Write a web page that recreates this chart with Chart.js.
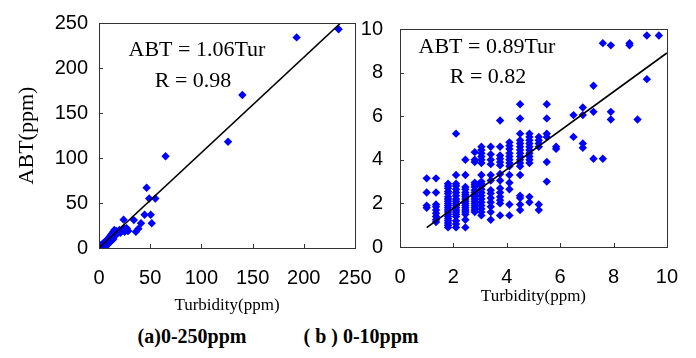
<!DOCTYPE html>
<html>
<head>
<meta charset="utf-8">
<script src="https://cdn.jsdelivr.net/npm/chart.js@4"></script>
<style>
  body { margin: 0; background: #fff; }
  #wrap { position: relative; width: 696px; height: 358px; overflow: hidden; }
  canvas { position: absolute; top: 0; }
  .cap { position: absolute; top: 326px; font: bold 20px "Liberation Serif", serif; line-height: 20px;
         transform: translateX(-50%); white-space: nowrap; color: #000; }
</style>
</head>
<body>
<div id="wrap">
  <canvas id="chartA" width="400" height="320" style="left:0"></canvas>
  <canvas id="chartB" width="356" height="320" style="left:340px"></canvas>
  <div class="cap" style="left:192px">(a)0-250ppm</div>
  <div class="cap" style="left:361px">( b ) 0-10ppm</div>
</div>
<script>
// (a) 0-250 ppm : turbidity vs ABT
const turA = [234, 193, 140, 126, 65, 46.5, 49, 55, 44.5, 50.5, 51.5, 34, 24, 41, 38.5, 36, 27, 28.5,
  1, 1.5, 2, 2, 2.5, 3, 3, 3.5, 4, 4, 4.5, 5, 5, 5.5, 6, 6, 6.5, 7, 7, 7.5, 8, 8, 8.5, 9, 9, 9.5,
  10, 10, 10.5, 11, 11, 11.5, 12, 12, 12.5, 13, 13, 13.5, 14, 14, 15, 15, 16, 17, 18, 19, 20, 21,
  22, 23, 24, 25, 26, 27, 28];
const abtA = [243, 234, 170, 118, 102, 67, 55, 55, 37, 37, 27.5, 31, 31.5, 27.5, 21.5, 18, 21.5, 19,
  1, 2.5, 1, 3, 2, 4, 1.5, 3, 5, 2, 3.5, 6, 2.5, 4.5, 7, 3, 5, 8, 4, 6, 9, 3, 7, 10, 5, 8,
  12, 6, 9, 13, 7, 10, 15, 8, 11, 16, 9, 12, 18, 10, 20, 13, 17, 19, 16, 18, 20, 17,
  19, 21, 22, 18, 20, 22, 19];
const fitA = [{ x: 0, y: 0 }, { x: 236, y: 250 }];

// (b) 0-10 ppm : points sit on discrete turbidity columns
const turB = [1.0, 1.35, 1.8, 2.1, 2.45, 2.8, 3.05, 3.4, 3.75, 4.1, 4.5, 4.85, 5.2, 5.5, 5.85,
  6.5, 6.85, 7.25, 7.6, 7.9, 8.6, 8.9, 9.25, 9.7];
const abtB = [
  [3.15, 2.5, 1.9, 1.8],
  [3.15, 2.5, 1.95, 1.85, 1.7, 1.55, 1.4, 1.25, 1.15],
  [2.9, 2.8, 2.7, 2.55, 2.45, 2.3, 2.2, 2.1, 2.0, 1.9, 1.8, 1.7, 1.6, 1.5, 1.4, 1.3, 1.2, 1.1, 1.0, 0.9],
  [5.2, 3.3, 2.9, 2.8, 2.65, 2.5, 2.35, 2.2, 2.1, 2.0, 1.9, 1.8, 1.7, 1.6, 1.5, 1.4, 1.2, 1.05, 0.9],
  [4.0, 3.3, 2.75, 2.65, 2.5, 2.4, 2.3, 2.2, 2.1, 2.0, 1.9, 1.8, 1.7, 1.6, 1.5, 1.25, 0.9],
  [4.35, 4.0, 3.9, 2.95, 2.85, 2.75, 2.6, 2.5, 2.4, 2.3, 2.2, 2.1, 2.0, 1.9, 1.8, 1.7, 1.6],
  [4.6, 4.45, 4.3, 4.15, 4.0, 3.85, 3.3, 3.0, 2.9, 2.8, 2.65, 2.5, 2.35, 2.2, 2.05, 1.9, 1.75, 1.6, 1.45],
  [4.6, 4.25, 4.0, 3.8, 3.3, 3.05, 2.6, 2.45, 2.25, 2.05, 1.85, 1.6, 1.25],
  [5.8, 4.6, 4.2, 4.05, 3.9, 3.75, 3.35, 3.05, 2.7, 2.5, 2.3, 2.15, 2.0, 1.45],
  [4.8, 4.65, 4.5, 4.3, 4.15, 4.0, 3.85, 3.7, 3.3, 2.95, 2.65, 1.95, 1.45],
  [6.55, 5.9, 5.2, 4.9, 4.75, 4.6, 4.45, 4.3, 4.15, 4.0, 3.85, 3.7, 3.3, 2.35, 2.25, 1.95, 1.7],
  [5.2, 5.05, 4.9, 4.75, 4.6, 4.45, 4.3, 4.15, 4.0, 3.85, 2.3, 2.05],
  [5.05, 4.9, 4.75, 4.6, 1.95, 1.7],
  [6.55, 5.9, 5.2, 5.05, 3.9, 3.0],
  [4.6, 4.5],
  [6.05, 5.05],
  [6.4, 6.05, 4.75, 4.55],
  [7.4, 6.2, 4.05],
  [9.35, 4.05],
  [9.25, 6.2, 5.85],
  [9.35, 9.25],
  [5.85],
  [9.7, 7.7],
  [9.7]
];
const fitB = [{ x: 1, y: 0.89 }, { x: 10, y: 8.9 }];

const BLUE = "#0000ff";
const tickFont = { family: "'Liberation Sans', Arial, sans-serif", size: 20 };
const serif = "'Liberation Serif', 'Times New Roman', serif";

// frame box + inward tick marks + equation text
const framePlugin = {
  id: "frame",
  afterDraw(chart, args, opts) {
    const { ctx, chartArea: a, scales } = chart;
    ctx.save();
    ctx.strokeStyle = "#333";
    ctx.lineWidth = 1;
    ctx.strokeRect(Math.round(a.left) + 0.5, Math.round(a.top) + 0.5,
      Math.round(a.right - a.left), Math.round(a.bottom - a.top));
    ctx.beginPath();
    scales.x.ticks.forEach((t, i) => {
      const px = Math.round(scales.x.getPixelForTick(i)) + 0.5;
      ctx.moveTo(px, a.bottom);
      ctx.lineTo(px, a.bottom - 4);
    });
    scales.y.ticks.forEach((t, i) => {
      const py = Math.round(scales.y.getPixelForTick(i)) + 0.5;
      ctx.moveTo(a.left, py);
      ctx.lineTo(a.left + 4, py);
    });
    ctx.stroke();
    ctx.fillStyle = "#000";
    ctx.font = "22px " + serif;
    ctx.textAlign = "center";
    ctx.textBaseline = "alphabetic";
    (opts.notes || []).forEach((n) => ctx.fillText(n.text, n.x, n.y));
    ctx.restore();
  },
};

function makeChart(id, points, fit, cfg) {
  return new Chart(document.getElementById(id), {
    type: "scatter",
    data: {
      datasets: [
        {
          data: fit,
          showLine: true,
          borderColor: "#000",
          borderWidth: 1.6,
          pointRadius: 0,
        },
        {
          data: points,
          pointStyle: "rectRot",
          pointRadius: 4.2,
          pointBorderWidth: 0,
          backgroundColor: BLUE,
          borderColor: BLUE,
        },
      ],
    },
    options: {
      responsive: false,
      animation: false,
      layout: { padding: cfg.padding },
      plugins: {
        legend: { display: false },
        tooltip: { enabled: false },
        frame: { notes: cfg.notes },
      },
      scales: {
        x: {
          min: 0,
          max: cfg.max,
          grid: { display: false, drawTicks: false },
          border: { display: false },
          ticks: { stepSize: cfg.step, font: tickFont, color: "#000", padding: cfg.xPad, autoSkip: false, maxRotation: 0 },
          title: {
            display: true,
            text: "Turbidity(ppm)",
            color: "#000",
            font: { family: serif, size: 17 },
            padding: { top: 0, bottom: cfg.xTitlePad },
          },
          afterFit: (s) => { s.height = cfg.xHeight; },
        },
        y: {
          min: 0,
          max: cfg.max,
          grid: { display: false, drawTicks: false },
          border: { display: false },
          ticks: { stepSize: cfg.step, font: tickFont, color: "#000", padding: cfg.yPad },
          title: {
            display: cfg.yTitle !== "",
            text: cfg.yTitle,
            color: "#000",
            font: { family: serif, size: 22 },
            padding: { top: 14, bottom: 0 },
          },
          afterFit: (s) => { s.width = cfg.yWidth; },
        },
      },
    },
    plugins: [framePlugin],
  });
}

const pointsA = turA.map((x, i) => ({ x: x, y: abtA[i] }));
const pointsB = [];
turB.forEach((x, i) => abtB[i].forEach((y) => pointsB.push({ x: x, y: y })));

makeChart("chartA", pointsA, fitA, {
  max: 250, step: 50,
  padding: { left: 0, top: 19, right: 45, bottom: 0 },
  xHeight: 72, yWidth: 99, xPad: 18, yPad: 11, xTitlePad: 4,
  yTitle: "ABT(ppm)",
  notes: [
    { text: "ABT = 1.06Tur", x: 197, y: 56 },
    { text: "R = 0.98", x: 193, y: 87 },
  ],
});

makeChart("chartB", pointsB, fitB, {
  max: 10, step: 2,
  padding: { left: 0, top: 17, right: 26, bottom: 0 },
  xHeight: 73, yWidth: 60, xPad: 18, yPad: 17, xTitlePad: 13,
  yTitle: "",
  notes: [
    { text: "ABT = 0.89Tur", x: 147, y: 53 },
    { text: "R = 0.82", x: 148, y: 83 },
  ],
});
</script>
</body>
</html>
